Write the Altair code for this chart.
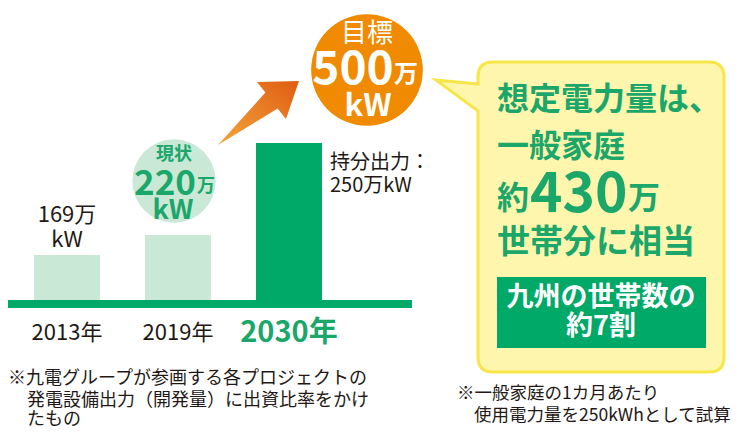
import altair as alt
import pandas as pd

FONT = "Noto Sans CJK JP"
GREEN = "#00a968"
TEXT_GREEN = "#1ba66a"
LIGHT_GREEN = "#c9e8d6"
ORANGE = "#f08a00"
INK = "#231815"

# ---- data ----
years = ["2013年", "2019年", "2030年"]
capacity = [169, 220, 250]            # 万kW (labels)
bar_height = [28.7, 41.4, 100.0]      # drawn bar height, % of the tallest bar
bar_kind = ["past", "past", "goal"]
target = 500                          # 万kW target
households = 430                      # 万世帯
share = 7                             # 割

bars_df = pd.DataFrame({"year": years, "cap": capacity, "h": bar_height, "kind": bar_kind})
bars_df["label"] = bars_df["cap"].astype(str) + "万\nkW"

# ---- bar part: band x scale, value y scale ----
XB = alt.Scale(domain=years, range=[26, 314], paddingInner=0.405, paddingOuter=0)
YB = alt.Scale(domain=[0, 100], range=[292, 135], nice=False, zero=False)

bars = alt.Chart(bars_df).mark_bar(opacity=1).encode(
    x=alt.X("year:N", scale=XB, axis=None, sort=years),
    y=alt.Y("h:Q", scale=YB, axis=None),
    color=alt.Color("kind:N", scale=alt.Scale(domain=["past", "goal"], range=[LIGHT_GREEN, GREEN]), legend=None),
)

year_past = alt.Chart(bars_df).transform_filter("datum.kind == 'past'").mark_text(
    font=FONT, fontSize=22, color=INK, baseline="middle", align="center"
).encode(
    x=alt.X("year:N", scale=XB, axis=None, sort=years, bandPosition=0.5),
    y=alt.value(325),
    text="year:N",
)
year_goal = alt.Chart(bars_df).transform_filter("datum.kind == 'goal'").mark_text(
    font=FONT, fontSize=29, fontWeight="bold", color=TEXT_GREEN, baseline="middle", align="center"
).encode(
    x=alt.X("year:N", scale=XB, axis=None, sort=years, bandPosition=0.5),
    y=alt.value(325),
    text="year:N",
)
first_label = alt.Chart(bars_df).transform_filter("datum.year == '2013年'").mark_text(
    font=FONT, fontSize=22, color=INK, baseline="bottom", align="center",
    lineBreak="\n", lineHeight=25, dy=-28
).encode(
    x=alt.X("year:N", scale=XB, axis=None, sort=years, bandPosition=0.5),
    y=alt.Y("h:Q", scale=YB, axis=None),
    text="label:N",
)
bar_part = alt.layer(bars, year_past, year_goal, first_label)

# ---- decorations on a pixel scale ----
PX = alt.Scale(domain=[8, 736], nice=False, zero=False)
PY = alt.Scale(domain=[8, 431], reverse=True, nice=False, zero=False)


def enc(**kw):
    return dict(x=alt.X("x:Q", scale=PX, axis=None), y=alt.Y("y:Q", scale=PY, axis=None), **kw)


baseline = alt.Chart(pd.DataFrame({"x": [7], "x2": [412], "y": [304]})).mark_rule(
    color=GREEN, strokeWidth=8
).encode(x=alt.X("x:Q", scale=PX, axis=None), x2="x2:Q", y=alt.Y("y:Q", scale=PY, axis=None))

circles = alt.Chart(pd.DataFrame({
    "x": [174, 367], "y": [181, 70], "s": [6940, 12469], "c": [LIGHT_GREEN, ORANGE]
})).mark_circle(opacity=1).encode(**enc(size=alt.Size("s:Q", scale=None), color=alt.Color("c:N", scale=None)))

ARROW = "M0,0 L47.4,-52.4 L39,-63 L81,-64 L68,-26 L59.6,-36.6 Z"
arrow_grad = alt.LinearGradient(
    gradient="linear", x1=0, y1=1, x2=1, y2=0,
    stops=[alt.GradientStop(color="#f4a63c", offset=0), alt.GradientStop(color="#df5d12", offset=1)],
)
arrow = alt.Chart(pd.DataFrame({"x": [218], "y": [145]})).mark_point(
    shape=ARROW, size=4, filled=True, fill=arrow_grad, strokeWidth=0, opacity=1
).encode(**enc())

BUBBLE = ("M0,0 L42,4 L42,-3 Q42,-18 57,-18 L273,-18 Q288,-18 288,-3 L288,277 "
          "Q288,292 273,292 L57,292 Q42,292 42,277 L42,31 Z")
bubble = alt.Chart(pd.DataFrame({"x": [436], "y": [80]})).mark_point(
    shape=BUBBLE, size=4, filled=True, fill="#fff6ae", stroke="#f7e64a", strokeWidth=3, opacity=1
).encode(**enc())

box = alt.Chart(pd.DataFrame({"x": [497], "x2": [706], "y": [277], "y2": [348]})).mark_rect(
    color=GREEN, opacity=1
).encode(x=alt.X("x:Q", scale=PX, axis=None), x2="x2:Q", y=alt.Y("y:Q", scale=PY, axis=None), y2="y2:Q")


def texts(rows, align="center", weight="bold"):
    df = pd.DataFrame(rows, columns=["t", "x", "y", "fs", "c"])
    return alt.Chart(df).mark_text(font=FONT, fontWeight=weight, align=align, baseline="middle").encode(
        **enc(text="t:N", size=alt.Size("fs:Q", scale=None), color=alt.Color("c:N", scale=None))
    )


center_bold = texts([
    ["現状", 174, 155, 18, TEXT_GREEN],
    [str(capacity[1]), 165, 184, 35, TEXT_GREEN],
    ["万", 206, 187, 18, TEXT_GREEN],
    ["kW", 173, 211, 27, TEXT_GREEN],
    [str(target), 353, 70, 46, "white"],
    ["万", 406, 75, 24, "white"],
    ["kW", 368, 107, 31, "white"],
    ["九州の世帯数の", 601, 298, 27, "white"],
    [f"約{share}割", 601, 327, 27, "white"],
])
center_norm = texts([
    ["目標", 367, 34, 26, "white"],
], weight="normal")
left_bold = texts([
    ["想定電力量は、", 497, 100, 32, TEXT_GREEN],
    ["一般家庭", 497, 147, 32, TEXT_GREEN],
    ["約", 497, 199, 32, TEXT_GREEN],
    [str(households), 530, 195, 55, TEXT_GREEN],
    ["万", 628, 199, 32, TEXT_GREEN],
    ["世帯分に相当", 497, 243, 33, TEXT_GREEN],
], align="left")
left_norm = texts([
    ["持分出力：", 330, 163, 20, INK],
    [f"{capacity[2]}万kW", 330, 186, 20, INK],
    ["※九電グループが参画する各プロジェクトの", 8, 379, 18, INK],
    ["発電設備出力（開発量）に出資比率をかけ", 27, 401, 18, INK],
    ["たもの", 27, 420, 18, INK],
    ["※一般家庭の1カ月あたり", 457, 394, 17.5, INK],
    ["使用電力量を250kWhとして試算", 474, 416, 17.5, INK],
], align="left", weight="normal")

deco = alt.layer(bubble, box, circles, arrow, baseline, center_bold, center_norm, left_bold, left_norm)

chart = alt.layer(deco, bar_part).resolve_scale(x="independent", y="independent", color="independent", size="independent").properties(
    width=728, height=423, autosize=alt.AutoSizeParams(type="none"), padding=0
).configure_view(stroke=None)

chart.save("out.html", embed_options={"renderer": "svg", "actions": False})
